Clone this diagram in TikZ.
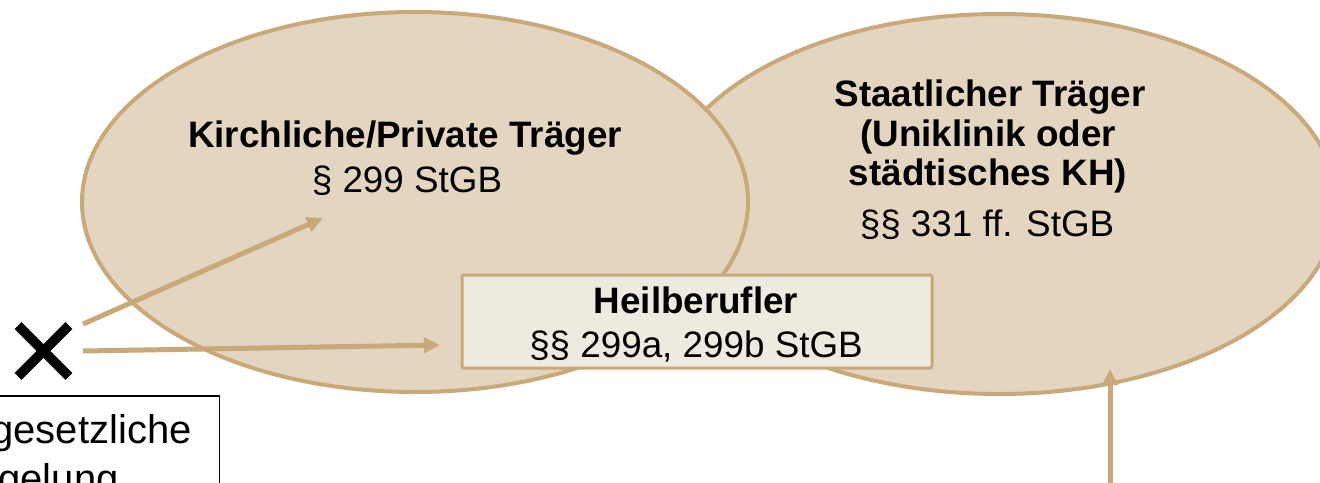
\documentclass[tikz,border=0pt]{standalone}
\usepackage{fontspec}
\setmainfont{Liberation Sans}
\usetikzlibrary{arrows.meta,shapes.geometric}
\definecolor{ellfill}{HTML}{E3D5BF}
\definecolor{trborder}{HTML}{C9A87A}
\definecolor{boxfill}{HTML}{EEEAE0}
\tikzset{
  ell/.style={ellipse, draw=trborder, fill=ellfill, line width=2pt, inner sep=0pt, minimum height=190pt},
  hbbox/.style={rectangle, draw=trborder, fill=boxfill, line width=1.5pt, rounded corners=1pt,
    minimum width=235pt, minimum height=46.5pt, inner sep=0pt},
  boldtxt/.style={font=\fontsize{18.4}{22}\selectfont\bfseries, inner sep=0pt, anchor=base},
  regtxt/.style={font=\fontsize{18.4}{22}\selectfont, inner sep=0pt, anchor=base},
  bigtxt/.style={font=\fontsize{20}{24}\selectfont, inner sep=0pt},
  conn/.style={draw=trborder, line width=2.5pt, -{Triangle[length=8pt,width=7.5pt]}},
}
\begin{document}
\begin{tikzpicture}[x=0.5pt,y=-0.5pt]
\useasboundingbox (0,0) rectangle (1320,482);
\clip (0,0) rectangle (1320,482);
% ellipses
\node[ell, minimum width=338pt] (staat) at (999,204) {};
\node[ell, minimum width=333pt] (kirch) at (415,202) {};
% Heilberufler box
\node[hbbox] (heil) at (697,321.5) {};
% texts
\node[boldtxt] (k1) at (405,147) {Kirchliche/Private Träger};
\node[regtxt] (k2) at (407,192) {§ 299 StGB};
\node[boldtxt] (s1) at (990,106) {Staatlicher Träger};
\node[boldtxt] (s2) at (988,146) {(Uniklinik oder};
\node[boldtxt] (s3) at (988,185) {städtisches KH)};
\node[regtxt] (s4) at (987,236) {§§ 331 ff. StGB};
\node[boldtxt] (h1) at (696,313) {Heilberufler};
\node[regtxt] (h2) at (696,357) {§§ 299a, 299b StGB};
% X mark
\node[minimum size=28.5pt, inner sep=0pt] (xm) at (43.5,351) {};
\draw[line width=4.8pt] ([shift={(3.5,3.5)}]xm.north west) -- ([shift={(-3.5,-3.5)}]xm.south east);
\draw[line width=4.8pt] ([shift={(-3.5,3.5)}]xm.north east) -- ([shift={(3.5,-3.5)}]xm.south west);
% box bottom left
\node[draw=black, line width=0.75pt, anchor=north east, minimum width=200pt, minimum height=60pt, inner sep=0pt] (regbox) at (220,395) {};
\node[bigtxt, anchor=base east] (r1) at (192,443) {gesetzliche};
\node[bigtxt, anchor=base west] (r2) at (-53,492) {Regelung};
% connectors
\coordinate (a1s) at (83,324);
\coordinate (a1e) at (323,218);
\coordinate (a2s) at (83,351);
\coordinate (a2e) at (440,345);
\coordinate (a3s) at (1110,490);
\coordinate (a3e) at (1110,369);
\draw[conn] (a1s) -- (a1e);
\draw[conn] (a2s) -- (a2e);
\draw[conn] (a3s) -- (a3e);
\end{tikzpicture}
\end{document}
